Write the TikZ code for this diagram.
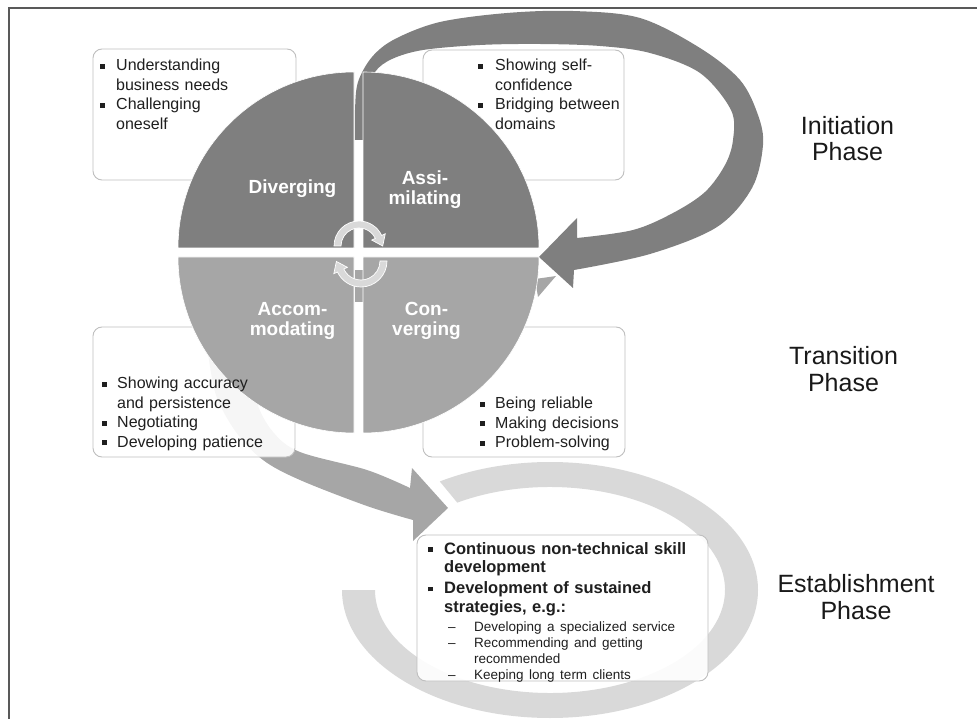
\documentclass[tikz,border=0pt]{standalone}
\usepackage{fontspec}
\setmainfont{Liberation Sans}
\usetikzlibrary{calc}
\definecolor{gA}{HTML}{7F7F7F}
\definecolor{gB}{HTML}{A6A6A6}
\definecolor{gC}{HTML}{D9D9D9}
\definecolor{bx}{HTML}{BFBFBF}
\definecolor{frm}{HTML}{595959}
\newcommand{\sqb}{\rule[2.2pt]{4.6pt}{4.6pt}}
\newcommand{\bitem}[2][16pt]{\noindent\hangindent=#1\hangafter=1\makebox[#1][l]{\strut\sqb}#2\par}
\newcommand{\ditem}[1]{\noindent\hangindent=46pt\hangafter=1\hspace*{20pt}\makebox[26pt][l]{\strut\textendash}#1\par}
\begin{document}
\begin{tikzpicture}[x=1pt,y=-1pt,
  box/.style={draw=bx, line width=0.9pt, fill=white, fill opacity=0.9, rounded corners=9pt},
  quad/.style={draw=white, line width=0.6pt},
  txt/.style={inner sep=0pt, anchor=north west, text width=#1, text=black!88,
    font=\fontsize{16}{19.5}\selectfont},
  qlab/.style={inner sep=0pt, text=white, align=center, font=\bfseries\fontsize{19}{19.5}\selectfont},
  phase/.style={inner sep=0pt, anchor=north, align=center, text=black!90, font=\fontsize{25}{26.5}\selectfont},
  carrow/.style={fill=gC, draw=white, line width=0.7pt}]
\useasboundingbox (0,0) rectangle (977,719);
% frame
\draw[frm, line width=1.2pt] (9,719) -- (9,8) -- (977,8);
% establishment ring
\fill[gC] (342,590) arc[start angle=180,end angle=-122,x radius=208,y radius=128]
  -- ($(550,590)+(-122:175 and 103)$) arc[start angle=-122,end angle=180,x radius=175,y radius=103] -- cycle;
% transition arrow
\fill[gB] plot[smooth,tension=0.55] coordinates {(208,352) (216,395) (236,432) (263,460) (300,480) (367,506) (413,520)}
  -- (413,541) -- (448,508) -- (412,468) -- (410,488)
  -- plot[smooth,tension=0.55] coordinates {(410,488) (367,470) (300,452) (273,432) (256,400) (250,352)} -- cycle;
% initiation arrow
\fill[gA] plot[smooth, tension=0.55] coordinates {(355,140) (355,110) (358,82) (372,57) (395,39) (440,22) (507,13) (573,11) (640,18) (700,48) (740,80) (758,115) (763,145) (752,188) (717,227) (650,254) (574,270)}
  -- (573,288) -- (539,257) -- (577,218) -- (577,238)
  -- plot[smooth, tension=0.55] coordinates {(577,238) (633,230) (673,213) (705,192) (725,165) (733,140) (731,110) (700,73) (650,53) (600,46) (540,44) (480,45) (423,50) (392,59) (375,72) (367,95) (365,140)} -- cycle;
% hidden arrow hints
\fill[gB] (535,279) -- (556,276) -- (538,297) -- cycle;
\fill[gB] (355,270) rectangle (363,302);
% boxes
\draw[box] (93,49) rectangle (296,180);
\draw[box] (423,50) rectangle (624,180);
\draw[box] (93,327) rectangle (295,457);
\draw[box] (423,327) rectangle (625,457);
\draw[box] (417,535) rectangle (708,681);
% quadrants
\fill[gA, quad] (354,248) -- (178,248) arc[start angle=180,end angle=270,radius=176] -- cycle;
\fill[gA, quad] (363,248) -- (363,72) arc[start angle=270,end angle=360,radius=176] -- cycle;
\fill[gB, quad] (354,257) -- (178,257) arc[start angle=180,end angle=90,radius=176] -- cycle;
\fill[gB, quad] (363,257) -- (539,257) arc[start angle=0,end angle=90,radius=176] -- cycle;
% small cycle arrows
\coordinate (c1) at (359,246);
\coordinate (c2) at (361,261);
\filldraw[carrow] ($(c1)+(180:25)$) arc[start angle=180,end angle=335,radius=25]
  -- ($(c1)+(335:29)$) -- ($(c1)+(335:21.5)+(65:10)$) -- ($(c1)+(335:14)$)
  -- ($(c1)+(335:18)$) arc[start angle=335,end angle=180,radius=18] -- cycle;
\filldraw[carrow] ($(c2)+(0:26)$) arc[start angle=0,end angle=155,radius=26]
  -- ($(c2)+(155:30)$) -- ($(c2)+(155:22.5)+(245:10)$) -- ($(c2)+(155:15)$)
  -- ($(c2)+(155:19)$) arc[start angle=155,end angle=0,radius=19] -- cycle;
% quadrant labels
\node[qlab, anchor=base] (div) at (292.5,193.3) {Diverging};
\node[qlab, anchor=north] (assim) at (425,170.35) {\strut Assi-\\milating};
\node[qlab, anchor=north] (accom) at (292.5,301.35) {\strut Accom-\\modating};
\node[qlab, anchor=north] (conv) at (426.5,301.35) {\strut Con-\\verging};
% box texts
\node[txt=190pt] (tlt) at (100,57) {\bitem{Understanding\newline business needs}\bitem{Challenging\newline oneself}};
\node[txt=180pt] (trt) at (478,57) {\bitem[17pt]{Showing self-\newline confidence}\bitem[17pt]{Bridging between\newline domains}};
\node[txt=200pt] (blt) at (102,374.9) {\bitem[15pt]{Showing accuracy\newline and persistence}\bitem[15pt]{Negotiating}\bitem[15pt]{Developing patience}};
\node[txt=150pt] (brt) at (480,394.9) {\bitem[15pt]{Being reliable}\bitem[15pt]{Making decisions}\bitem[15pt]{Problem-solving}};
\node[txt=280pt, font=\bfseries\fontsize{16.5}{18.5}\selectfont] (estt) at (428,541) {\bitem{Continuous non-technical skill\newline development}\vspace{2.5pt}\bitem{Development of sustained\newline strategies, e.g.:}{\mdseries\fontsize{13.5}{16}\selectfont\vspace{3pt}\ditem{Developing a specialized service}\ditem{Recommending and getting\newline recommended}\ditem{Keeping long term clients}}};
% phase labels
\node[phase] (init) at (847.5,115.75) {\strut Initiation\\Phase};
\node[phase] (trans) at (843.5,345.8) {\strut Transition\\Phase};
\node[phase] (estab) at (856,574.1) {\strut Establishment\\Phase};
\end{tikzpicture}
\end{document}
